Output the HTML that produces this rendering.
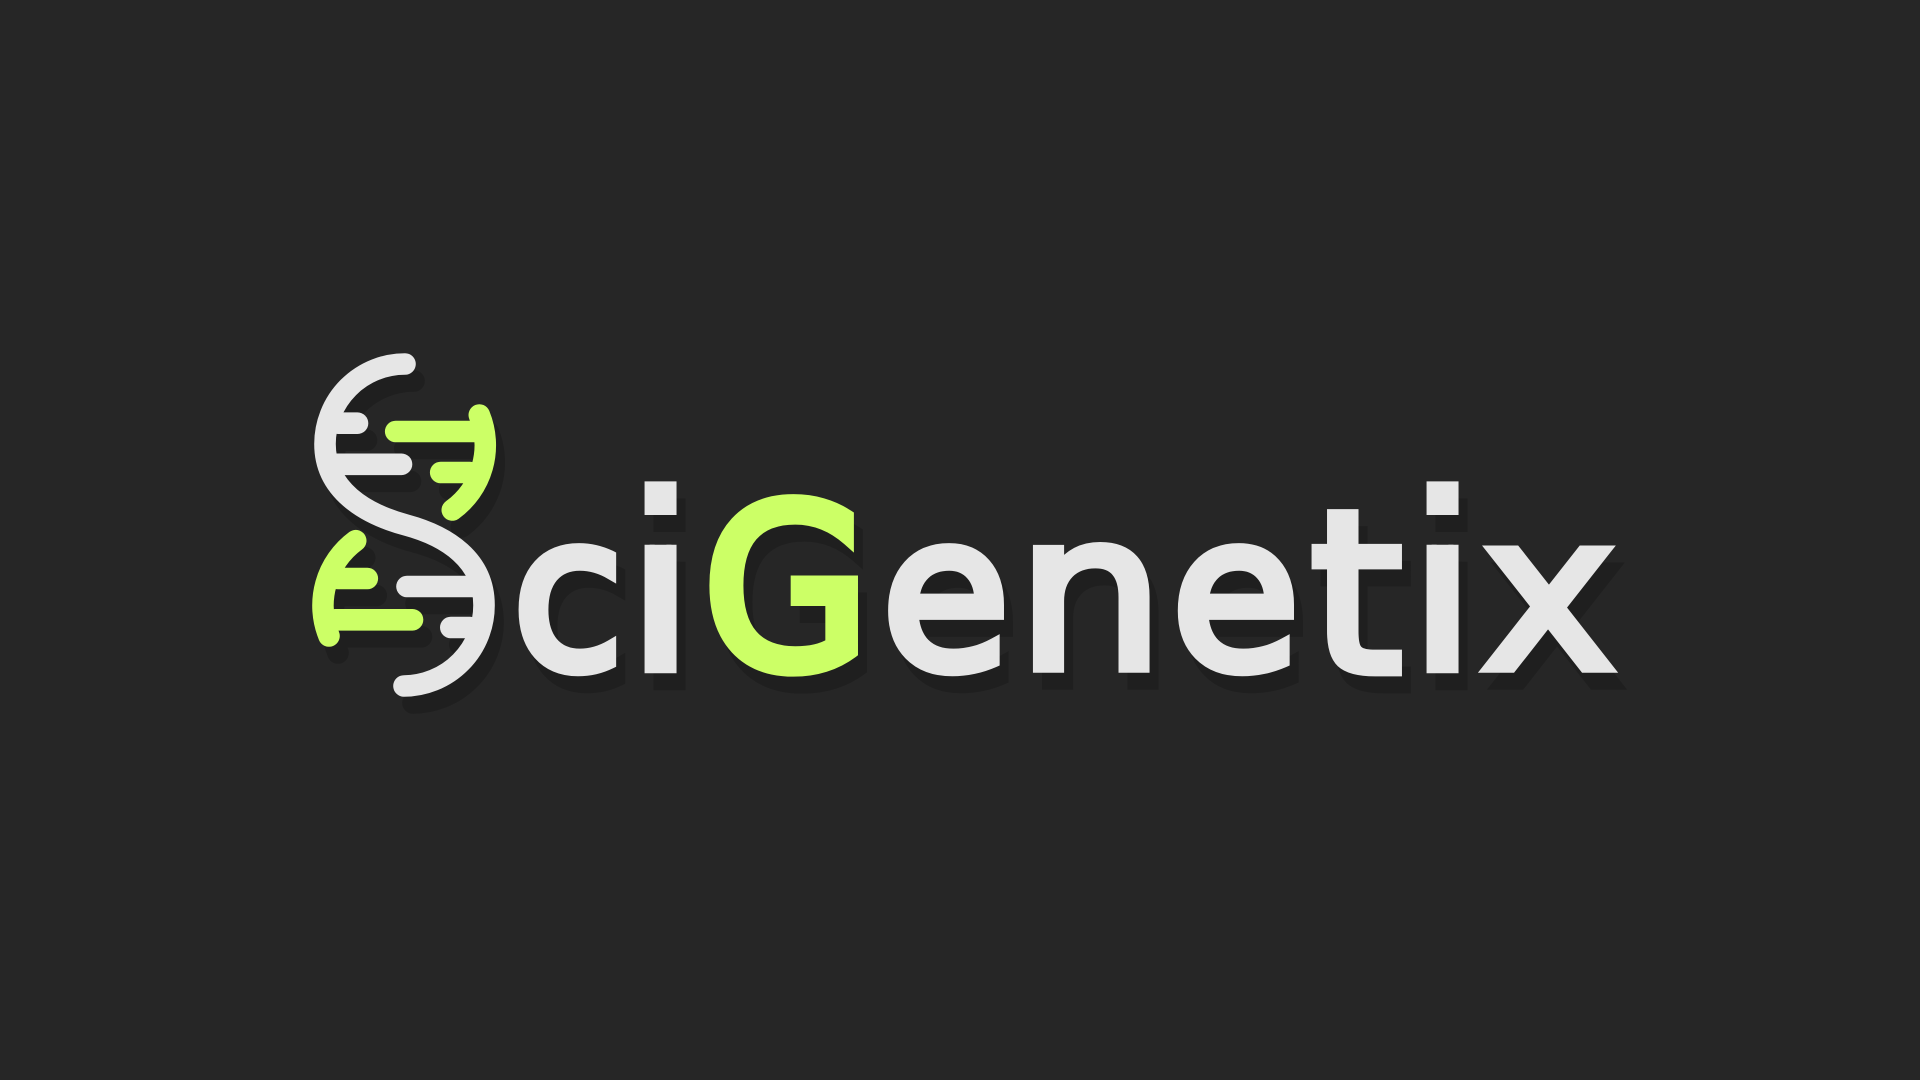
<!DOCTYPE html>
<html lang="en">
<head>
<meta charset="utf-8">
<title>SciGenetix logo</title>
<style>
html,body{margin:0;padding:0;background:#262626;width:1920px;height:1080px;overflow:hidden}
svg{display:block}
.mark{fill:none;stroke-width:21.6;stroke-linecap:round;stroke-linejoin:round}
.w{stroke:#e6e6e6}
.g{stroke:#ccff66}
text{font-family:"DejaVu Sans",sans-serif;font-weight:400;font-size:240px;text-rendering:geometricPrecision;stroke-linejoin:miter;stroke-miterlimit:6}
</style>
</head>
<body>
<svg width="1920" height="1080" viewBox="0 0 1920 1080">
<defs>
  <clipPath id="clip-i-first"><rect x="630" y="470" width="60" height="45"/><rect x="630" y="544.7" width="60" height="140"/></clipPath>
  <clipPath id="clip-i-second"><rect x="1412" y="470" width="60" height="45"/><rect x="1412" y="544.7" width="60" height="140"/></clipPath>
</defs>
<rect width="1920" height="1080" fill="#262626"/>
<g style="filter:drop-shadow(9px 17px 0 #1f1f1f)">
  <g>
    <path class="mark w" d="M405 364A80 80 0 0 0 325 444C325 490 365 514 406 525C447 536 484 560 484 605A80.5 80.5 0 0 1 404 686"/>
    <path class="mark w" d="M338 423.2H357.5"/>
    <path class="mark w" d="M337 464.3H401.5"/>
    <path class="mark w" d="M407 586.5H472"/>
    <path class="mark w" d="M450.8 627.5H470"/>
    <path class="mark g" d="M479.3 415A80 80 0 0 1 452.3 510"/>
    <path class="mark g" d="M395.7 431.5H474"/>
    <path class="mark g" d="M440.7 472.5H470"/>
    <path class="mark g" d="M355.7 540.7A80.5 80.5 0 0 0 329 636"/>
    <path class="mark g" d="M338 578.5H367.3"/>
    <path class="mark g" d="M335 619.8H412.5"/>
  </g>
  <g>
    <text class="fit" fill="#e6e6e6" stroke="#e6e6e6" stroke-width="13" data-box="517.3 618 541 676.7">c</text>
    <g clip-path="url(#clip-i-first)">
      <text class="fit" fill="#e6e6e6" stroke="#e6e6e6" stroke-width="10" data-box="644 677.3 480.7 673.3">i</text>
    </g>
    <text class="fit" fill="#ccff66" stroke="#ccff66" stroke-width="13" data-box="708.3 859.3 492 676.7">G</text>
    <text class="fit" fill="#e6e6e6" stroke="#e6e6e6" stroke-width="13" data-box="887 1005 541 676.7">e</text>
    <text class="fit" fill="#e6e6e6" stroke="#e6e6e6" stroke-width="10.5" data-box="1032 1150 541 673.3">n</text>
    <text class="fit" fill="#e6e6e6" stroke="#e6e6e6" stroke-width="13" data-box="1176.7 1295 541 676.7">e</text>
    <text class="fit" fill="#e6e6e6" stroke="#e6e6e6" stroke-width="10.5" data-box="1311 1402.7 508.3 676.7">t</text>
    <g clip-path="url(#clip-i-second)">
      <text class="fit" fill="#e6e6e6" stroke="#e6e6e6" stroke-width="10" data-box="1426 1459.3 480.7 673.3">i</text>
    </g>
    <text class="fit" fill="#e6e6e6" stroke="#e6e6e6" stroke-width="10" data-box="1481.5 1614.5 544.3 673.3">x</text>
  </g>
</g>
</svg>
<script>
var measureCanvas = document.createElement('canvas').getContext('2d');
measureCanvas.font = '400 240px "DejaVu Sans", sans-serif';
document.querySelectorAll('text.fit').forEach(function (t) {
  var box = t.getAttribute('data-box').split(' ').map(Number);
  var strokeInset = parseFloat(t.getAttribute('stroke-width')) / 2;
  var x0 = box[0] + strokeInset, x1 = box[1] - strokeInset;
  var y0 = box[2] + strokeInset, y1 = box[3] - strokeInset;
  var m = measureCanvas.measureText(t.textContent);
  var inkW = m.actualBoundingBoxLeft + m.actualBoundingBoxRight;
  var inkH = m.actualBoundingBoxAscent + m.actualBoundingBoxDescent;
  var sx = (x1 - x0) / inkW;
  var sy = (y1 - y0) / inkH;
  var tx = x0 + m.actualBoundingBoxLeft * sx;
  var ty = y0 + m.actualBoundingBoxAscent * sy;
  t.setAttribute('transform', 'translate(' + tx + ' ' + ty + ') scale(' + sx + ' ' + sy + ')');
});
</script>
</body>
</html>
